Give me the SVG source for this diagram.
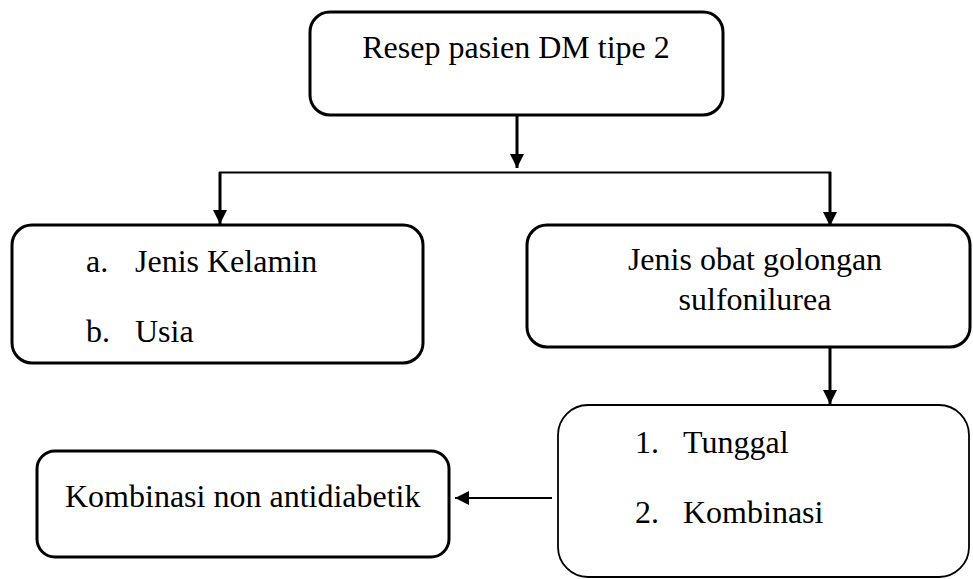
<svg xmlns="http://www.w3.org/2000/svg" width="973" height="579" viewBox="0 0 973 579">
<defs>
<marker id="ah" markerUnits="userSpaceOnUse" markerWidth="15" markerHeight="15" refX="14" refY="7" orient="auto">
<path d="M0,0 L14,7 L0,14 z" fill="#000"/>
</marker>
<style>
.box{fill:#fff;stroke:#000;stroke-width:3}
.thin{stroke-width:1.8}
.t{font-family:"Liberation Serif","Times New Roman",serif;font-size:32px;fill:#000}
.c{text-anchor:middle}
.conn path{fill:none;stroke:#000}
</style>
</defs>
<rect width="973" height="579" fill="#fff"/>
<g id="n1">
<rect class="box" x="310" y="12" width="413" height="103" rx="20"/>
<text class="t c" x="516" y="58">Resep pasien DM tipe 2</text>
</g>
<g id="n2">
<rect class="box" x="12" y="225" width="411" height="138" rx="20"/>
<text class="t" x="86" y="272">a.</text>
<text class="t" x="135" y="272">Jenis Kelamin</text>
<text class="t" x="86" y="342">b.</text>
<text class="t" x="135" y="342">Usia</text>
</g>
<g id="n3">
<rect class="box" x="527" y="225" width="443" height="122" rx="20"/>
<text class="t c" x="755" y="270">Jenis obat golongan</text>
<text class="t c" x="755" y="310">sulfonilurea</text>
</g>
<g id="n4">
<rect class="box thin" x="558" y="405" width="411" height="172" rx="30"/>
<text class="t" x="635" y="453">1.</text>
<text class="t" x="683" y="453">Tunggal</text>
<text class="t" x="635" y="523">2.</text>
<text class="t" x="683" y="523">Kombinasi</text>
</g>
<g id="n5">
<rect class="box" x="37" y="451" width="412" height="106" rx="18"/>
<text class="t" x="65" y="507">Kombinasi non antidiabetik</text>
</g>
<g id="connectors" class="conn">
<path d="M517,115 V168" stroke-width="3" marker-end="url(#ah)"/>
<path d="M219,172.5 H831" stroke-width="2"/>
<path d="M220,172 V224" stroke-width="3" marker-end="url(#ah)"/>
<path d="M830,172 V226" stroke-width="3" marker-end="url(#ah)"/>
<path d="M830,347 V404" stroke-width="3" marker-end="url(#ah)"/>
<path d="M552,498 H455" stroke-width="1.8" marker-end="url(#ah)"/>
</g>
</svg>
